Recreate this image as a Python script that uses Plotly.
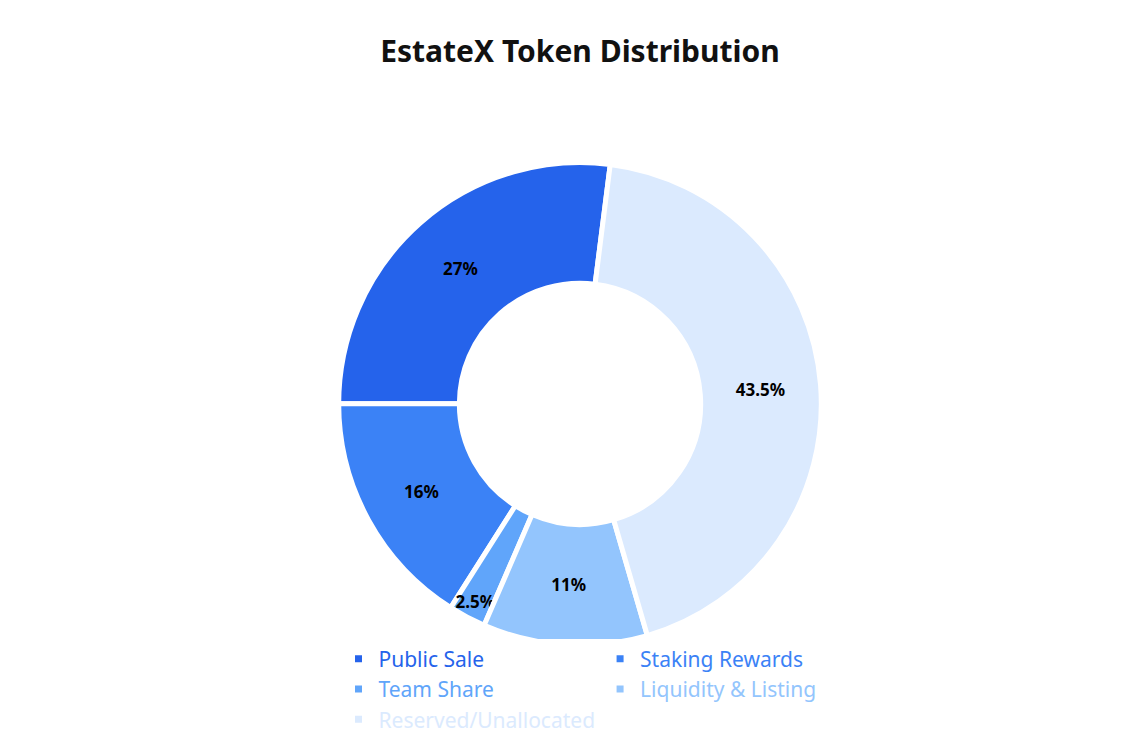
import plotly.graph_objects as go

labels = ["Public Sale", "Staking Rewards", "Team Share", "Liquidity & Listing", "Reserved/Unallocated"]
values = [27, 16, 2.5, 11, 43.5]
colors = ["#2563eb", "#3b82f6", "#60a5fa", "#93c5fd", "#dbeafe"]

legend_labels = [f"<span style='color:{c}'>{l}</span>" for l, c in zip(labels, colors)]
texts = [f"<b>{v:g}%</b>" for v in values]

fig = go.Figure(go.Pie(
    labels=legend_labels, values=values, sort=False, direction="counterclockwise",
    rotation=270, hole=0.5,
    marker=dict(colors=colors, line=dict(color="white", width=5)),
    text=texts, textinfo="text", textposition="inside", insidetextorientation="horizontal",
    textfont=dict(color="black", size=17, family="Noto Sans"),
    domain=dict(x=[0, 1], y=[0.126, 0.788]),
))
fig.update_layout(
    width=1144, height=732, margin=dict(l=290, r=290, t=0, b=0),
    paper_bgcolor="white", font=dict(family="Noto Sans"),
    uniformtext=dict(minsize=17, mode="show"),
    title=dict(text="<b>EstateX Token Distribution</b>", x=0.5, xanchor="center",
               y=0.94, yanchor="middle", font=dict(size=30, color="#111111")),
    legend=dict(orientation="h", x=0.5, xanchor="center", y=0.135, yanchor="top",
                font=dict(size=21), traceorder="normal"),
)
fig.write_html("out.html")
